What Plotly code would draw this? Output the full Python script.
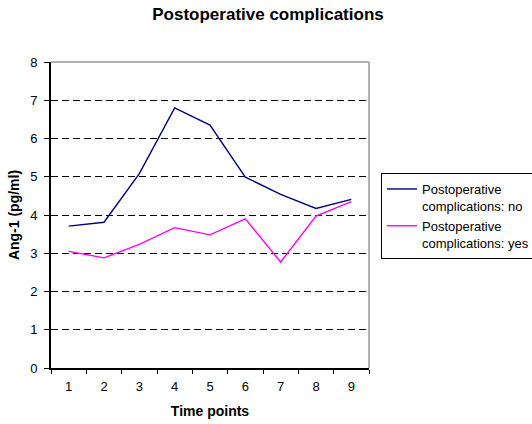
import plotly.graph_objects as go

time_points = ["1", "2", "3", "4", "5", "6", "7", "8", "9"]
no_values = [3.71, 3.81, 5.08, 6.80, 6.35, 4.99, 4.54, 4.17, 4.41]
yes_values = [3.05, 2.88, 3.23, 3.67, 3.48, 3.90, 2.77, 3.97, 4.35]
series_names = ["Postoperative<br>complications: no", "Postoperative<br>complications: yes"]
y_ticks = [0, 1, 2, 3, 4, 5, 6, 7, 8]

FONT = "Liberation Sans, Arial, sans-serif"
W, H = 532, 424

fig = go.Figure()
fig.add_trace(go.Scatter(x=time_points, y=no_values, mode="lines", name=series_names[0],
                         line=dict(color="#000080", width=1.4)))
fig.add_trace(go.Scatter(x=time_points, y=yes_values, mode="lines", name=series_names[1],
                         line=dict(color="#FF00FF", width=1.4)))

# plot-area border (top and right), grey like the reference
fig.add_shape(type="line", xref="paper", yref="paper", x0=0, x1=1, y0=1, y1=1,
              line=dict(color="#999999", width=1.5), layer="above")
fig.add_shape(type="line", xref="paper", yref="paper", x0=1, x1=1, y0=0, y1=1,
              line=dict(color="#999999", width=1.5), layer="above")

fig.update_layout(
    width=W, height=H,
    margin=dict(l=51, r=W - 51 - 318, t=62, b=56, autoexpand=False),
    paper_bgcolor="white", plot_bgcolor="white",
    font=dict(family=FONT, size=13, color="black"),
    title=dict(text="<b>Postoperative complications</b>", x=268 / W, xanchor="center",
               xref="container", y=1 - 14 / H, yanchor="middle",
               font=dict(size=17, family=FONT)),
    showlegend=True,
    legend=dict(x=(381 - 51) / 318, xanchor="left", y=(368 - 173) / 306, yanchor="top",
                bordercolor="black", borderwidth=1, bgcolor="white",
                font=dict(size=13, family=FONT), itemwidth=30, valign="top"),
    xaxis=dict(type="category", range=[-0.5, 8.5], tickson="boundaries", ticks="outside",
               ticklen=4, tickcolor="black", tickwidth=1.2, ticklabelstandoff=5,
               showline=True, linecolor="black", linewidth=1.8,
               showgrid=False, tickfont=dict(size=13),
               title=dict(text="<b>Time points</b>", font=dict(size=14), standoff=14)),
    yaxis=dict(range=[0, 8], tickvals=y_ticks, ticks="outside", ticklen=5,
               tickcolor="black", tickwidth=1.2, ticklabelstandoff=4,
               showline=True, linecolor="black", linewidth=1.8,
               showgrid=True, gridcolor="black", gridwidth=1, griddash="7px,4px",
               zeroline=False, tickfont=dict(size=13),
               title=dict(text="<b>Ang-1 (pg/ml)</b>", font=dict(size=14), standoff=7)),
)

fig.write_html(
    "out.html",
    config={"displayModeBar": False},
    post_script="document.body.style.margin='0';document.body.style.overflow='hidden';",
)
